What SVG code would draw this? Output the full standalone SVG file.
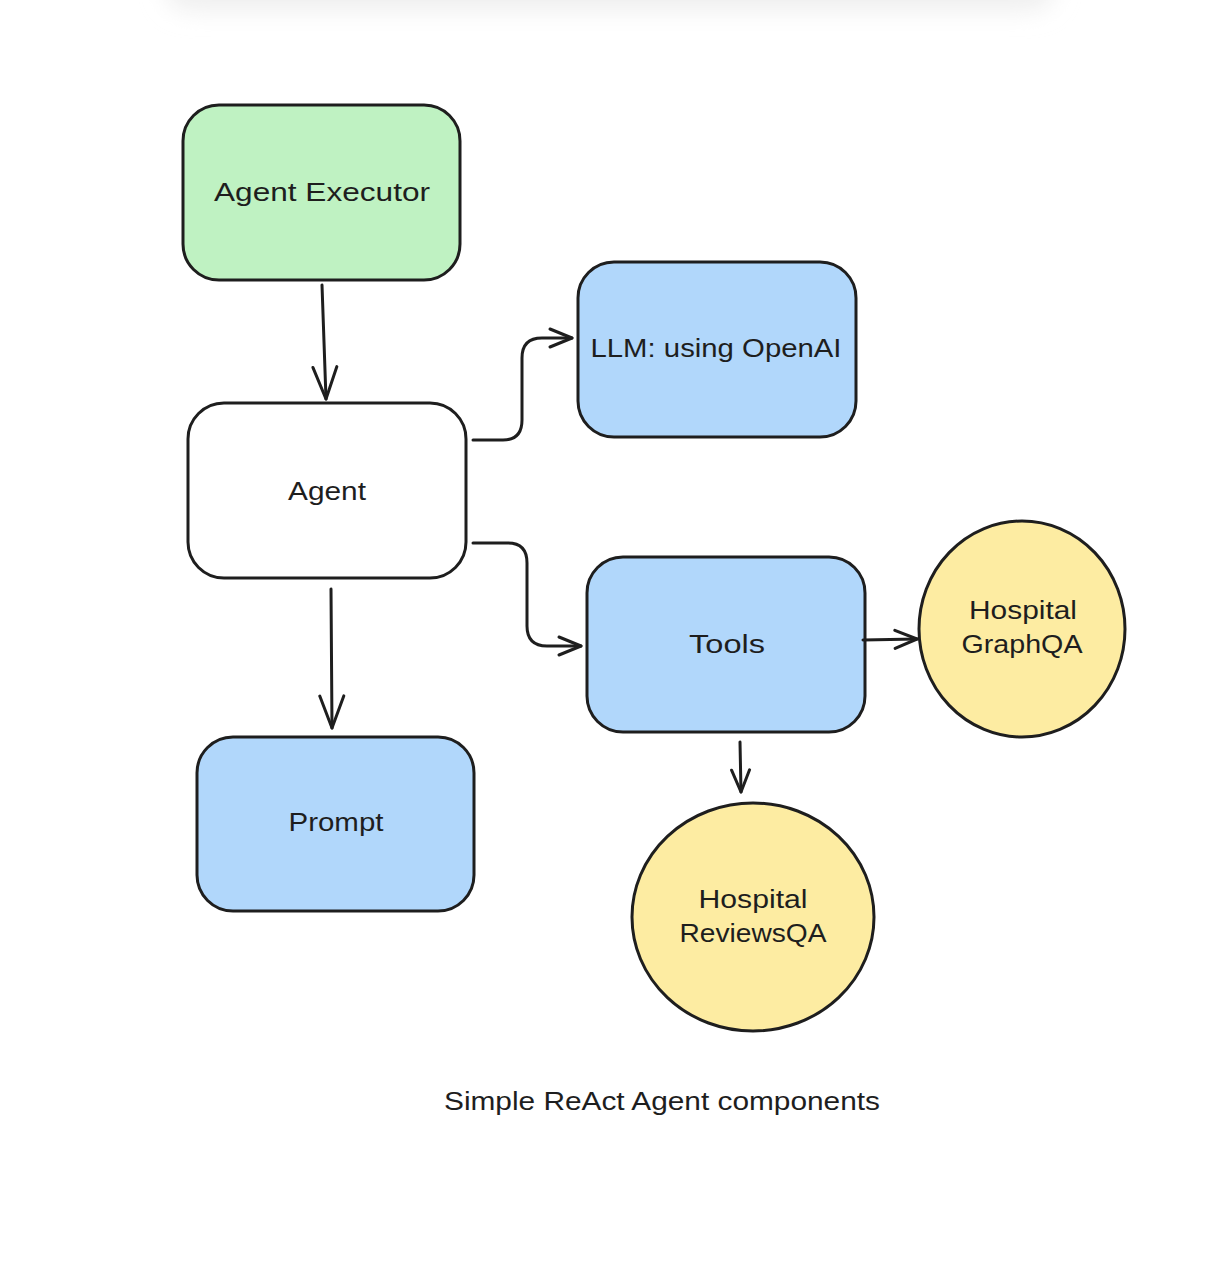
<svg xmlns="http://www.w3.org/2000/svg" width="1224" height="1262" viewBox="0 0 1224 1262">
<defs>
<filter id="sh" x="-10%" y="-200%" width="120%" height="500%"><feGaussianBlur stdDeviation="12"/></filter>
<marker id="ah" viewBox="0 0 26 26" refX="24" refY="13" markerWidth="26" markerHeight="26" markerUnits="userSpaceOnUse" orient="auto">
<path d="M2,4 L24,13 L2,22" fill="none" stroke="#1e1e1e" stroke-width="3" stroke-linecap="round" stroke-linejoin="round"/>
</marker>
<marker id="ahl" viewBox="0 0 36 30" refX="34" refY="15" markerWidth="36" markerHeight="30" markerUnits="userSpaceOnUse" orient="auto">
<path d="M2,3 L34,15 L2,27" fill="none" stroke="#1e1e1e" stroke-width="3" stroke-linecap="round" stroke-linejoin="round"/>
</marker>
</defs>
<style>
.box{stroke:#1e1e1e;stroke-width:3;}
.g{fill:#bff2c2;}
.b{fill:#b1d7fb;}
.w{fill:#ffffff;}
.y{fill:#fdeca2;}
.t{font-family:"Liberation Sans","DejaVu Sans",sans-serif;font-size:25px;fill:#1e1e1e;text-anchor:middle;}
.c{fill:none;stroke:#1e1e1e;stroke-width:3;stroke-linecap:round;stroke-linejoin:round;}
</style>
<rect width="1224" height="1262" fill="#ffffff"/>
<rect x="165" y="-40" width="890" height="50" rx="25" fill="#eeeeee" filter="url(#sh)"/>
<g id="agent-executor">
<rect class="box g" x="183" y="105" width="277" height="175" rx="36"/>
<text class="t" x="322" y="201" textLength="216" lengthAdjust="spacingAndGlyphs">Agent Executor</text>
</g>
<g id="agent">
<rect class="box w" x="188" y="403" width="278" height="175" rx="36"/>
<text class="t" x="327" y="500" textLength="78" lengthAdjust="spacingAndGlyphs">Agent</text>
</g>
<g id="llm">
<rect class="box b" x="578" y="262" width="278" height="175" rx="36"/>
<text class="t" x="716" y="357" textLength="251" lengthAdjust="spacingAndGlyphs">LLM: using OpenAI</text>
</g>
<g id="tools">
<rect class="box b" x="587" y="557" width="278" height="175" rx="36"/>
<text class="t" x="727" y="653" textLength="76" lengthAdjust="spacingAndGlyphs">Tools</text>
</g>
<g id="prompt">
<rect class="box b" x="197" y="737" width="277" height="174" rx="36"/>
<text class="t" x="336" y="831" textLength="95" lengthAdjust="spacingAndGlyphs">Prompt</text>
</g>
<g id="hospital-graphqa">
<ellipse class="box y" cx="1022" cy="629" rx="103" ry="108"/>
<text class="t" x="1023" y="619" textLength="108" lengthAdjust="spacingAndGlyphs">Hospital</text>
<text class="t" x="1022" y="653" textLength="121" lengthAdjust="spacingAndGlyphs">GraphQA</text>
</g>
<g id="hospital-reviewsqa">
<ellipse class="box y" cx="753" cy="917" rx="121" ry="114"/>
<text class="t" x="753" y="908" textLength="109" lengthAdjust="spacingAndGlyphs">Hospital</text>
<text class="t" x="753" y="942" textLength="147" lengthAdjust="spacingAndGlyphs">ReviewsQA</text>
</g>
<g id="caption">
<text class="t" x="662" y="1110" textLength="436" lengthAdjust="spacingAndGlyphs">Simple ReAct Agent components</text>
</g>
<g id="connectors">
<path class="c" d="M322,285 L326,399" marker-end="url(#ahl)"/>
<path class="c" d="M473,440 L503,440 Q522,440 522,420 L522,358 Q522,338 542,338 L572,338" marker-end="url(#ah)"/>
<path class="c" d="M473,543 L508,543 Q527,543 527,563 L527,626 Q527,646 547,646 L581,646" marker-end="url(#ah)"/>
<path class="c" d="M331,589 L332,728" marker-end="url(#ahl)"/>
<path class="c" d="M863,640 L917,639" marker-end="url(#ah)"/>
<path class="c" d="M740,742 L741,792" marker-end="url(#ah)"/>
</g>
</svg>
